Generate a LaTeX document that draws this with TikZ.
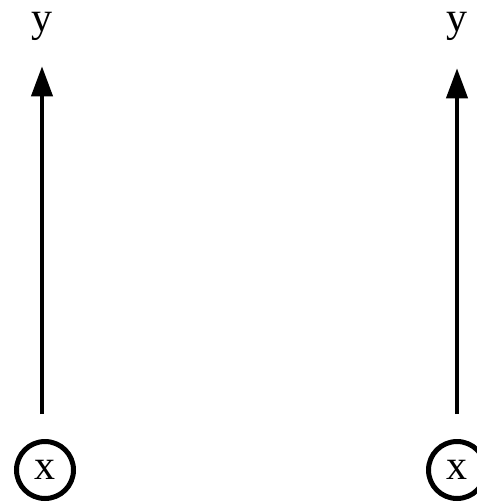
\documentclass[tikz,border=0pt]{standalone}
\usepackage{fontspec}
\setmainfont{Liberation Serif}
\usetikzlibrary{arrows.meta}
\begin{document}
\begin{tikzpicture}[x=1pt,y=1pt,
  lbl/.style={font=\fontsize{42}{48}\selectfont, inner sep=0pt},
  circ/.style={circle, draw, line width=5pt, minimum size=57pt, inner sep=0pt},
  arr/.style={line width=4pt, -{Triangle[length=30pt,width=21pt]}}]
\useasboundingbox (0,0) rectangle (476,-502);
\node[circ] (xl) at (45,-470) {};
\node[lbl, anchor=base] at (45,-479) {x};
\node[lbl, anchor=base] (yl) at (42,-32) {y};
\node[circ] (xr) at (457,-470) {};
\node[lbl, anchor=base] at (457,-479) {x};
\node[lbl, anchor=base] (yr) at (457,-32) {y};
\draw[arr, shorten <=25pt, shorten >=25pt] (xl.north -| yl.south) -- (yl.south);
\draw[arr, shorten <=25pt, shorten >=27pt] (xr.north -| yr.south) -- (yr.south);
\end{tikzpicture}
\end{document}
